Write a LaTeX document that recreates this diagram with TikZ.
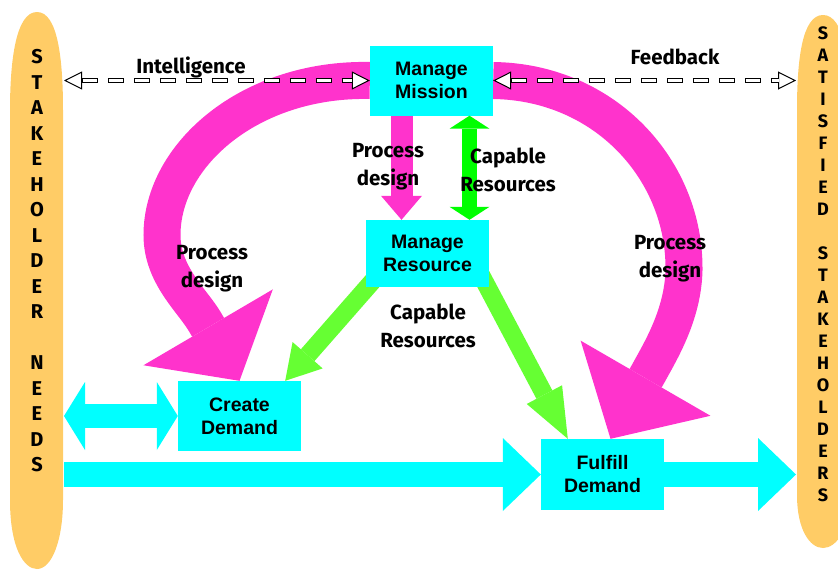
\documentclass[tikz,border=0pt]{standalone}
\usepackage{fontspec}
\setmainfont{Liberation Sans}
\newfontfamily\handfont{Fira Sans}
\usepackage{tikz}
\usetikzlibrary{arrows.meta, backgrounds}
\definecolor{pillar}{HTML}{FFCC66}
\definecolor{pinkloop}{HTML}{FF33CC}
\definecolor{aqua}{HTML}{00FFFF}
\definecolor{capgreen}{HTML}{66FF33}
\definecolor{topgreen}{HTML}{00FF00}

\begin{document}
\begin{tikzpicture}[x=1pt, y=-1pt,
    box/.style={fill=aqua, minimum width=123pt, minimum height=70pt, inner sep=0pt, align=center,
        font=\fontsize{19.5}{23}\selectfont\bfseries},
    lbl/.style={align=center, inner sep=0pt, font=\handfont\bfseries\fontsize{20.5}{28}\selectfont},
    letter/.style={inner sep=0pt, font=\handfont\bfseries\fontsize{#1}{#1}\selectfont},
    bigloop/.style={draw=pinkloop, line width=37pt, -{Triangle[length=#1, width=150pt, line width=0pt]}},
    capline/.style={draw=capgreen, line width=18pt, -{Triangle[length=#1, width=40pt, line width=0pt]}},
    flow/.style={draw=aqua, line width=25pt, -{Triangle[length=38pt, width=73pt, line width=0pt]}},
    twoway/.style={draw=aqua, line width=24pt,
        {Triangle[length=21pt, width=68pt, line width=0pt]}-{Triangle[length=21pt, width=68pt, line width=0pt]}},
    feed/.style={draw=black, line width=5pt, dash pattern=on 16pt off 10pt,
        {Triangle[length=18pt, width=18pt, fill=white, line width=1pt]}-{Triangle[length=18pt, width=18pt, fill=white, line width=1pt]},
        postaction={draw=white, line width=3pt, dash pattern=on 14pt off 12pt, dash phase=25pt, arrows=-,
            shorten <=17.5pt, shorten >=17.5pt}}]
\useasboundingbox (0,0) rectangle (838,570);
\clip (0,0) rectangle (838,570);

\node[box] (mission) at (431.5,80.5) {Manage\\Mission};
\node[box, minimum height=67pt] (resource) at (427.5,253.5) {Manage\\Resource};
\node[box] (create) at (239.5,416) {Create\\Demand};
\node[box, minimum height=71pt] (fulfill) at (602.5,474.5) {Fulfill\\Demand};

\coordinate (needs) at (64,0);
\coordinate (sat) at (796,0);
\coordinate (pd) at ([xshift=-30pt]mission.south);
\coordinate (cr) at ([xshift=38pt]mission.south);

\begin{pgfonlayer}{background}
\fill[pillar] (37,12) .. controls (16,12) and (10,60) .. (10,110) -- (10,500)
    .. controls (10,548) and (24,569) .. (37,569) .. controls (52,569) and (63,540) .. (63,500)
    -- (63,110) .. controls (63,60) and (58,12) .. (37,12) -- cycle;
\fill[pillar] (823,15) .. controls (802,15) and (797,60) .. (797,110) -- (797,495)
    .. controls (797,530) and (810,548) .. (823,548) .. controls (836,548) and (850,530) .. (850,495)
    -- (850,110) .. controls (850,60) and (844,15) .. (823,15) -- cycle;

\draw[bigloop=62pt] (mission.west) .. controls (250,78) and (162,155) .. (162,235)
    .. controls (162,275) and (192,300) .. (205,322) -- (create.north);
\draw[bigloop=70pt] (mission.east) .. controls (605,82) and (685,170) .. (684,270)
    .. controls (683,315) and (660,352) .. (648,374) -- ([xshift=8pt]fulfill.north);

\draw[capline=34pt] ([xshift=12pt,yshift=12pt]resource.south west) -- ([xshift=-16pt]create.north east);
\draw[capline=50pt] ([xshift=-8pt,yshift=12pt]resource.south east) -- ([xshift=27pt]fulfill.north west);

\draw[twoway] (needs |- create.west) -- (create.west);
\draw[flow] (needs |- fulfill.west) -- (fulfill.west);
\draw[flow] (fulfill.east) -- (sat |- fulfill.east);
\end{pgfonlayer}

\draw[draw=pinkloop, line width=22pt, -{Triangle[length=24pt, width=41pt, line width=0pt]}] (pd) -- (pd |- resource.north);
\draw[draw=topgreen, line width=15pt,
    {Triangle[length=13pt, width=40pt, line width=0pt]}-{Triangle[length=13pt, width=40pt, line width=0pt]}] (cr) -- (cr |- resource.north);

\draw[feed] (needs |- mission.west) -- (mission.west);
\draw[feed] (mission.east) -- (sat |- mission.east);

\node[lbl] (intelligence) at (191,67) {Intelligence};
\node[lbl] (feedback) at (675,57) {Feedback};
\node[lbl] (pdmid) at (388,167) {Process\\design};
\node[lbl] (crtop) at (508,170) {Capable\\Resources};
\node[lbl] (crlow) at (428,326) {Capable\\Resources};
\node[lbl] (pdleft) at (212,269) {Process\\design};
\node[lbl] (pdright) at (670,259) {Process\\design};

\foreach \ch [count=\i] in {S,T,A,K,E,H,O,L,D,E,R,{},N,E,E,D,S}
    \node[letter=20] (needs\i) at (37,{57+25.5*(\i-1)}) {\ch};
\foreach \ch [count=\i] in {S,A,T,I,S,F,I,E,D,{},S,T,A,K,E,H,O,L,D,E,R,S}
    \node[letter=18] (sat\i) at (823,{33+22*(\i-1)}) {\ch};
\end{tikzpicture}
\end{document}
